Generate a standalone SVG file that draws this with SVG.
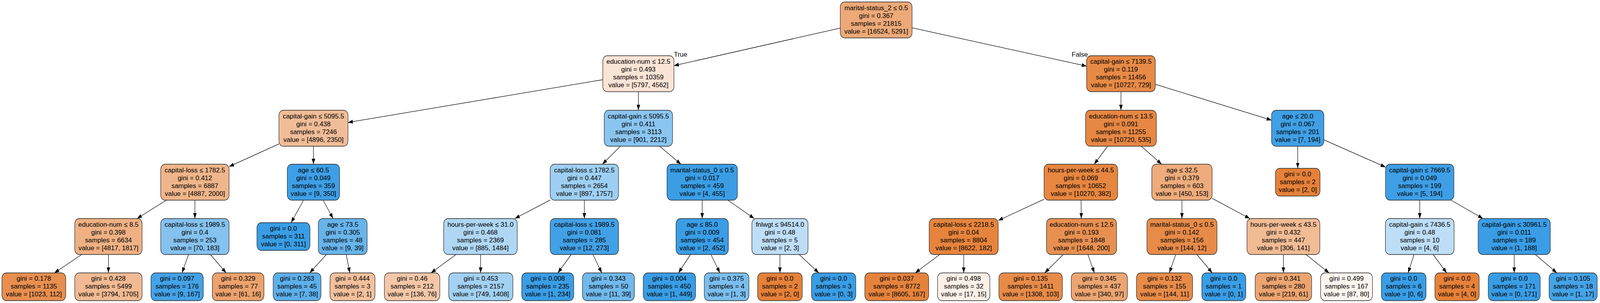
<svg xmlns="http://www.w3.org/2000/svg" width="4589" height="775" viewBox="0 0 4589 775" preserveAspectRatio="none">
<style>
svg { width:100vw; height:100vh; }
.node rect { stroke:#222; stroke-width:1.3; rx:13px; ry:13px; }
text { font-family:"Liberation Sans", Arial, Helvetica, sans-serif; font-size:16.5px; text-anchor:middle; fill:#000; }
.edges line { stroke:#000; stroke-width:1.3; marker-end:url(#ah); }
</style>
<defs>
<marker id="ah" markerUnits="userSpaceOnUse" markerWidth="14" markerHeight="10" refX="14" refY="5" orient="auto" viewBox="0 0 14 10"><path d="M0,0 L14,5 L0,10 z" fill="#000"/></marker>
</defs>
<rect width="4589" height="775" fill="#fff"/>
<g class="edges">
<line x1="2410" y1="71.8" x2="1933" y2="167.9"/>
<line x1="2616" y1="71.2" x2="3116.5" y2="169.2"/>
<line x1="1729" y1="203.8" x2="998" y2="313.2"/>
<line x1="1831" y1="234.5" x2="1831" y2="282"/>
<line x1="3215" y1="234.5" x2="3215" y2="282"/>
<line x1="3313.5" y1="215.6" x2="3647" y2="307.4"/>
<line x1="800" y1="368.2" x2="657" y2="426.2"/>
<line x1="899" y1="374" x2="899" y2="420"/>
<line x1="1779.3" y1="374" x2="1727.7" y2="420"/>
<line x1="1892" y1="374" x2="1953" y2="420"/>
<line x1="3176.7" y1="374" x2="3138.3" y2="420"/>
<line x1="3273.3" y1="374" x2="3331.7" y2="420"/>
<line x1="3722" y1="374" x2="3722" y2="430.5"/>
<line x1="3797" y1="357.6" x2="3974" y2="427.4"/>
<line x1="476.9" y1="512" x2="393.1" y2="559"/>
<line x1="559" y1="512" x2="559" y2="559"/>
<line x1="870.5" y1="512" x2="835" y2="569.5"/>
<line x1="926.8" y1="512" x2="955.2" y2="559"/>
<line x1="1578" y1="511.7" x2="1476.6" y2="559"/>
<line x1="1676" y1="512" x2="1676" y2="559"/>
<line x1="2014" y1="512" x2="2014" y2="559"/>
<line x1="2087.8" y1="512" x2="2163.2" y2="559"/>
<line x1="2994.5" y1="509.6" x2="2863" y2="564"/>
<line x1="3100.7" y1="512" x2="3101.3" y2="559"/>
<line x1="3390" y1="512" x2="3390" y2="559"/>
<line x1="3476.5" y1="507.3" x2="3584.7" y2="559"/>
<line x1="4072" y1="512" x2="4072" y2="559"/>
<line x1="4161.7" y1="512" x2="4253.3" y2="559"/>
<line x1="234.4" y1="651" x2="156.1" y2="698"/>
<line x1="311" y1="651" x2="311" y2="698"/>
<line x1="540.7" y1="651" x2="522.1" y2="698"/>
<line x1="603.4" y1="651" x2="648.7" y2="698"/>
<line x1="936.1" y1="651" x2="888.2" y2="698"/>
<line x1="993" y1="651" x2="1003.3" y2="698"/>
<line x1="1307.8" y1="651" x2="1236.2" y2="698"/>
<line x1="1378.5" y1="651" x2="1378.5" y2="698"/>
<line x1="1638.4" y1="651" x2="1600" y2="698"/>
<line x1="1700.7" y1="651" x2="1725.9" y2="698"/>
<line x1="1980.3" y1="651" x2="1946" y2="698"/>
<line x1="2039.1" y1="651" x2="2064.7" y2="698"/>
<line x1="2237" y1="651" x2="2237" y2="698"/>
<line x1="2292.1" y1="651" x2="2348.4" y2="698"/>
<line x1="2695.3" y1="651" x2="2625" y2="698"/>
<line x1="2764" y1="651" x2="2764" y2="698"/>
<line x1="3049.7" y1="651" x2="2996.3" y2="698"/>
<line x1="3120.3" y1="651" x2="3138.9" y2="698"/>
<line x1="3372.1" y1="651" x2="3353.8" y2="698"/>
<line x1="3433" y1="651" x2="3476.8" y2="698"/>
<line x1="3681" y1="651" x2="3681" y2="698"/>
<line x1="3745.8" y1="651" x2="3812" y2="698"/>
<line x1="4055.5" y1="651" x2="4038.7" y2="698"/>
<line x1="4110.3" y1="651" x2="4149.4" y2="698"/>
<line x1="4343" y1="651" x2="4343" y2="698"/>
<line x1="4403.5" y1="651" x2="4465.3" y2="698"/>
<g transform="translate(1952 0) scale(1.15 1)"><text y="145">True</text></g>
<g transform="translate(3097 0) scale(1.15 1)"><text y="145">False</text></g>
</g>
<g id="n0" class="node"><rect x="2410" y="5" width="206" height="92" fill="#eda978"/><g transform="translate(2513 0) scale(1.15 1)"><text y="26">marital-status_2 ≤ 0.5</text><text y="46">gini = 0.367</text><text y="66">samples = 21815</text><text y="86">value = [16524, 5291]</text></g></g>
<g id="n1" class="node"><rect x="1729" y="142.5" width="204" height="92" fill="#fae4d5"/><g transform="translate(1831 0) scale(1.15 1)"><text y="163.5">education-num ≤ 12.5</text><text y="183.5">gini = 0.493</text><text y="203.5">samples = 10359</text><text y="223.5">value = [5797, 4562]</text></g></g>
<g id="n2" class="node"><rect x="3116.5" y="142.5" width="197" height="92" fill="#e78a46"/><g transform="translate(3215 0) scale(1.15 1)"><text y="163.5">capital-gain ≤ 7139.5</text><text y="183.5">gini = 0.119</text><text y="203.5">samples = 11456</text><text y="223.5">value = [10727, 729]</text></g></g>
<g id="n3" class="node"><rect x="800" y="282" width="198" height="92" fill="#f1bd98"/><g transform="translate(899 0) scale(1.15 1)"><text y="303">capital-gain ≤ 5095.5</text><text y="323">gini = 0.438</text><text y="343">samples = 7246</text><text y="363">value = [4896, 2350]</text></g></g>
<g id="n4" class="node"><rect x="1733" y="282" width="196" height="92" fill="#8ac5f0"/><g transform="translate(1831 0) scale(1.15 1)"><text y="303">capital-gain ≤ 5095.5</text><text y="323">gini = 0.411</text><text y="343">samples = 3113</text><text y="363">value = [901, 2212]</text></g></g>
<g id="n5" class="node"><rect x="3113.5" y="282" width="203" height="92" fill="#e68743"/><g transform="translate(3215 0) scale(1.15 1)"><text y="303">education-num ≤ 13.5</text><text y="323">gini = 0.091</text><text y="343">samples = 11255</text><text y="363">value = [10720, 535]</text></g></g>
<g id="n6" class="node"><rect x="3647" y="282" width="150" height="92" fill="#40a0e6"/><g transform="translate(3722 0) scale(1.15 1)"><text y="303">age ≤ 20.0</text><text y="323">gini = 0.067</text><text y="343">samples = 201</text><text y="363">value = [7, 194]</text></g></g>
<g id="n7" class="node"><rect x="461" y="420" width="196" height="92" fill="#f0b58a"/><g transform="translate(559 0) scale(1.15 1)"><text y="441">capital-loss ≤ 1782.5</text><text y="461">gini = 0.412</text><text y="481">samples = 6887</text><text y="501">value = [4887, 2000]</text></g></g>
<g id="n8" class="node"><rect x="824" y="420" width="150" height="92" fill="#3e9fe6"/><g transform="translate(899 0) scale(1.15 1)"><text y="441">age ≤ 60.5</text><text y="461">gini = 0.049</text><text y="481">samples = 359</text><text y="501">value = [9, 350]</text></g></g>
<g id="n9" class="node"><rect x="1578" y="420" width="196" height="92" fill="#9ecff2"/><g transform="translate(1676 0) scale(1.15 1)"><text y="441">capital-loss ≤ 1782.5</text><text y="461">gini = 0.447</text><text y="481">samples = 2654</text><text y="501">value = [897, 1757]</text></g></g>
<g id="n10" class="node"><rect x="1913" y="420" width="202" height="92" fill="#3b9ee5"/><g transform="translate(2014 0) scale(1.15 1)"><text y="441">marital-status_0 ≤ 0.5</text><text y="461">gini = 0.017</text><text y="481">samples = 459</text><text y="501">value = [4, 455]</text></g></g>
<g id="n11" class="node"><rect x="2994.5" y="420" width="211" height="92" fill="#e68640"/><g transform="translate(3100 0) scale(1.15 1)"><text y="441">hours-per-week ≤ 44.5</text><text y="461">gini = 0.069</text><text y="481">samples = 10652</text><text y="501">value = [10270, 382]</text></g></g>
<g id="n12" class="node"><rect x="3303.5" y="420" width="173" height="92" fill="#eeac7c"/><g transform="translate(3390 0) scale(1.15 1)"><text y="441">age ≤ 32.5</text><text y="461">gini = 0.379</text><text y="481">samples = 603</text><text y="501">value = [450, 153]</text></g></g>
<g id="n13" class="node"><rect x="3658" y="430.5" width="128" height="71" fill="#e58139"/><g transform="translate(3722 0) scale(1.15 1)"><text y="451">gini = 0.0</text><text y="471">samples = 2</text><text y="491">value = [2, 0]</text></g></g>
<g id="n14" class="node"><rect x="3974" y="420" width="196" height="92" fill="#3e9fe6"/><g transform="translate(4072 0) scale(1.15 1)"><text y="441">capital-gain ≤ 7669.5</text><text y="461">gini = 0.049</text><text y="481">samples = 199</text><text y="501">value = [5, 194]</text></g></g>
<g id="n15" class="node"><rect x="214.5" y="559" width="193" height="92" fill="#efb184"/><g transform="translate(311 0) scale(1.15 1)"><text y="580">education-num ≤ 8.5</text><text y="600">gini = 0.398</text><text y="620">samples = 6634</text><text y="640">value = [4817, 1817]</text></g></g>
<g id="n16" class="node"><rect x="461" y="559" width="196" height="92" fill="#85c2ef"/><g transform="translate(559 0) scale(1.15 1)"><text y="580">capital-loss ≤ 1989.5</text><text y="600">gini = 0.4</text><text y="620">samples = 253</text><text y="640">value = [70, 183]</text></g></g>
<g id="n17" class="node"><rect x="737" y="569.5" width="152" height="71" fill="#399de5"/><g transform="translate(813 0) scale(1.15 1)"><text y="590">gini = 0.0</text><text y="610">samples = 311</text><text y="630">value = [0, 311]</text></g></g>
<g id="n18" class="node"><rect x="913" y="559" width="140" height="92" fill="#67b4eb"/><g transform="translate(983 0) scale(1.15 1)"><text y="580">age ≤ 73.5</text><text y="600">gini = 0.305</text><text y="620">samples = 48</text><text y="640">value = [9, 39]</text></g></g>
<g id="n19" class="node"><rect x="1272.5" y="559" width="211" height="92" fill="#afd7f4"/><g transform="translate(1378 0) scale(1.15 1)"><text y="580">hours-per-week ≤ 31.0</text><text y="600">gini = 0.468</text><text y="620">samples = 2369</text><text y="640">value = [885, 1484]</text></g></g>
<g id="n20" class="node"><rect x="1578" y="559" width="196" height="92" fill="#42a1e6"/><g transform="translate(1676 0) scale(1.15 1)"><text y="580">capital-loss ≤ 1989.5</text><text y="600">gini = 0.081</text><text y="620">samples = 285</text><text y="640">value = [12, 273]</text></g></g>
<g id="n21" class="node"><rect x="1939" y="559" width="150" height="92" fill="#3a9de5"/><g transform="translate(2014 0) scale(1.15 1)"><text y="580">age ≤ 85.0</text><text y="600">gini = 0.009</text><text y="620">samples = 454</text><text y="640">value = [2, 452]</text></g></g>
<g id="n22" class="node"><rect x="2156.5" y="559" width="161" height="92" fill="#bddef6"/><g transform="translate(2237 0) scale(1.15 1)"><text y="580">fnlwgt ≤ 94514.0</text><text y="600">gini = 0.48</text><text y="620">samples = 5</text><text y="640">value = [2, 3]</text></g></g>
<g id="n23" class="node"><rect x="2665" y="559" width="198" height="92" fill="#e6843d"/><g transform="translate(2764 0) scale(1.15 1)"><text y="580">capital-loss ≤ 2218.5</text><text y="600">gini = 0.04</text><text y="620">samples = 8804</text><text y="640">value = [8622, 182]</text></g></g>
<g id="n24" class="node"><rect x="3001.5" y="559" width="201" height="92" fill="#e89051"/><g transform="translate(3102 0) scale(1.15 1)"><text y="580">education-num ≤ 12.5</text><text y="600">gini = 0.193</text><text y="620">samples = 1848</text><text y="640">value = [1648, 200]</text></g></g>
<g id="n25" class="node"><rect x="3289.5" y="559" width="201" height="92" fill="#e78b49"/><g transform="translate(3390 0) scale(1.15 1)"><text y="580">marital-status_0 ≤ 0.5</text><text y="600">gini = 0.142</text><text y="620">samples = 156</text><text y="640">value = [144, 12]</text></g></g>
<g id="n26" class="node"><rect x="3576.5" y="559" width="209" height="92" fill="#f1bb94"/><g transform="translate(3681 0) scale(1.15 1)"><text y="580">hours-per-week ≤ 43.5</text><text y="600">gini = 0.432</text><text y="620">samples = 447</text><text y="640">value = [306, 141]</text></g></g>
<g id="n27" class="node"><rect x="3973.5" y="559" width="197" height="92" fill="#bddef6"/><g transform="translate(4072 0) scale(1.15 1)"><text y="580">capital-gain ≤ 7436.5</text><text y="600">gini = 0.48</text><text y="620">samples = 10</text><text y="640">value = [4, 6]</text></g></g>
<g id="n28" class="node"><rect x="4239.5" y="559" width="207" height="92" fill="#3a9de5"/><g transform="translate(4343 0) scale(1.15 1)"><text y="580">capital-gain ≤ 30961.5</text><text y="600">gini = 0.011</text><text y="620">samples = 189</text><text y="640">value = [1, 188]</text></g></g>
<g id="l1" class="node"><rect x="5.5" y="698" width="183" height="71" fill="#e88f4f"/><g transform="translate(97 0) scale(1.15 1)"><text y="718.5">gini = 0.178</text><text y="738.5">samples = 1135</text><text y="758.5">value = [1023, 112]</text></g></g>
<g id="l2" class="node"><rect x="214.5" y="698" width="193" height="71" fill="#f1ba92"/><g transform="translate(311 0) scale(1.15 1)"><text y="718.5">gini = 0.428</text><text y="738.5">samples = 5499</text><text y="758.5">value = [3794, 1705]</text></g></g>
<g id="l3" class="node"><rect x="433" y="698" width="150" height="71" fill="#44a2e6"/><g transform="translate(508 0) scale(1.15 1)"><text y="718.5">gini = 0.097</text><text y="738.5">samples = 176</text><text y="758.5">value = [9, 167]</text></g></g>
<g id="l4" class="node"><rect x="609" y="698" width="148" height="71" fill="#eca26d"/><g transform="translate(683 0) scale(1.15 1)"><text y="718.5">gini = 0.329</text><text y="738.5">samples = 77</text><text y="758.5">value = [61, 16]</text></g></g>
<g id="l5" class="node"><rect x="783.5" y="698" width="137" height="71" fill="#5dafea"/><g transform="translate(852 0) scale(1.15 1)"><text y="718.5">gini = 0.263</text><text y="738.5">samples = 45</text><text y="758.5">value = [7, 38]</text></g></g>
<g id="l6" class="node"><rect x="946.5" y="698" width="129" height="71" fill="#f2c09c"/><g transform="translate(1011 0) scale(1.15 1)"><text y="718.5">gini = 0.444</text><text y="738.5">samples = 3</text><text y="758.5">value = [2, 1]</text></g></g>
<g id="l7" class="node"><rect x="1102.5" y="698" width="159" height="71" fill="#f4c7a8"/><g transform="translate(1182 0) scale(1.15 1)"><text y="718.5">gini = 0.46</text><text y="738.5">samples = 212</text><text y="758.5">value = [136, 76]</text></g></g>
<g id="l8" class="node"><rect x="1287" y="698" width="184" height="71" fill="#a2d1f3"/><g transform="translate(1379 0) scale(1.15 1)"><text y="718.5">gini = 0.453</text><text y="738.5">samples = 2157</text><text y="758.5">value = [749, 1408]</text></g></g>
<g id="l9" class="node"><rect x="1496.5" y="698" width="149" height="71" fill="#3a9de5"/><g transform="translate(1571 0) scale(1.15 1)"><text y="718.5">gini = 0.008</text><text y="738.5">samples = 235</text><text y="758.5">value = [1, 234]</text></g></g>
<g id="l10" class="node"><rect x="1670.5" y="698" width="149" height="71" fill="#71b9ec"/><g transform="translate(1745 0) scale(1.15 1)"><text y="718.5">gini = 0.343</text><text y="738.5">samples = 50</text><text y="758.5">value = [11, 39]</text></g></g>
<g id="l11" class="node"><rect x="1845" y="698" width="150" height="71" fill="#399de5"/><g transform="translate(1920 0) scale(1.15 1)"><text y="718.5">gini = 0.004</text><text y="738.5">samples = 450</text><text y="758.5">value = [1, 449]</text></g></g>
<g id="l12" class="node"><rect x="2020" y="698" width="128" height="71" fill="#7bbeee"/><g transform="translate(2084 0) scale(1.15 1)"><text y="718.5">gini = 0.375</text><text y="738.5">samples = 4</text><text y="758.5">value = [1, 3]</text></g></g>
<g id="l13" class="node"><rect x="2173" y="698" width="128" height="71" fill="#e58139"/><g transform="translate(2237 0) scale(1.15 1)"><text y="718.5">gini = 0.0</text><text y="738.5">samples = 2</text><text y="758.5">value = [2, 0]</text></g></g>
<g id="l14" class="node"><rect x="2327.5" y="698" width="127" height="71" fill="#399de5"/><g transform="translate(2391 0) scale(1.15 1)"><text y="718.5">gini = 0.0</text><text y="738.5">samples = 3</text><text y="758.5">value = [0, 3]</text></g></g>
<g id="l15" class="node"><rect x="2480.5" y="698" width="183" height="71" fill="#e5833c"/><g transform="translate(2572 0) scale(1.15 1)"><text y="718.5">gini = 0.037</text><text y="738.5">samples = 8772</text><text y="758.5">value = [8605, 167]</text></g></g>
<g id="l16" class="node"><rect x="2689" y="698" width="150" height="71" fill="#fcf0e8"/><g transform="translate(2764 0) scale(1.15 1)"><text y="718.5">gini = 0.498</text><text y="738.5">samples = 32</text><text y="758.5">value = [17, 15]</text></g></g>
<g id="l17" class="node"><rect x="2865" y="698" width="182" height="71" fill="#e78b49"/><g transform="translate(2956 0) scale(1.15 1)"><text y="718.5">gini = 0.135</text><text y="738.5">samples = 1411</text><text y="758.5">value = [1308, 103]</text></g></g>
<g id="l18" class="node"><rect x="3072.5" y="698" width="161" height="71" fill="#eca572"/><g transform="translate(3153 0) scale(1.15 1)"><text y="718.5">gini = 0.345</text><text y="738.5">samples = 437</text><text y="758.5">value = [340, 97]</text></g></g>
<g id="l19" class="node"><rect x="3259.5" y="698" width="161" height="71" fill="#e78b48"/><g transform="translate(3340 0) scale(1.15 1)"><text y="718.5">gini = 0.132</text><text y="738.5">samples = 155</text><text y="758.5">value = [144, 11]</text></g></g>
<g id="l20" class="node"><rect x="3447" y="698" width="126" height="71" fill="#399de5"/><g transform="translate(3510 0) scale(1.15 1)"><text y="718.5">gini = 0.0</text><text y="738.5">samples = 1</text><text y="758.5">value = [0, 1]</text></g></g>
<g id="l21" class="node"><rect x="3600" y="698" width="162" height="71" fill="#eca470"/><g transform="translate(3681 0) scale(1.15 1)"><text y="718.5">gini = 0.341</text><text y="738.5">samples = 280</text><text y="758.5">value = [219, 61]</text></g></g>
<g id="l22" class="node"><rect x="3787.5" y="698" width="149" height="71" fill="#fdf5ef"/><g transform="translate(3862 0) scale(1.15 1)"><text y="718.5">gini = 0.499</text><text y="738.5">samples = 167</text><text y="758.5">value = [87, 80]</text></g></g>
<g id="l23" class="node"><rect x="3962" y="698" width="128" height="71" fill="#399de5"/><g transform="translate(4026 0) scale(1.15 1)"><text y="718.5">gini = 0.0</text><text y="738.5">samples = 6</text><text y="758.5">value = [0, 6]</text></g></g>
<g id="l24" class="node"><rect x="4115.5" y="698" width="127" height="71" fill="#e58139"/><g transform="translate(4179 0) scale(1.15 1)"><text y="718.5">gini = 0.0</text><text y="738.5">samples = 4</text><text y="758.5">value = [4, 0]</text></g></g>
<g id="l25" class="node"><rect x="4268.5" y="698" width="149" height="71" fill="#399de5"/><g transform="translate(4343 0) scale(1.15 1)"><text y="718.5">gini = 0.0</text><text y="738.5">samples = 171</text><text y="758.5">value = [0, 171]</text></g></g>
<g id="l26" class="node"><rect x="4443" y="698" width="138" height="71" fill="#45a3e7"/><g transform="translate(4512 0) scale(1.15 1)"><text y="718.5">gini = 0.105</text><text y="738.5">samples = 18</text><text y="758.5">value = [1, 17]</text></g></g>
</svg>
